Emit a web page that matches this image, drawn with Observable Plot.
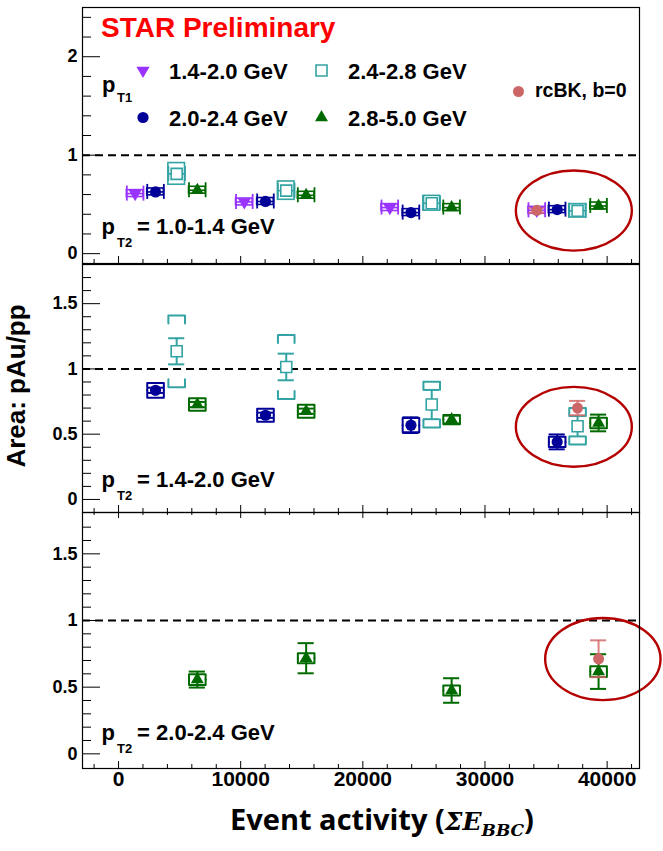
<!DOCTYPE html>
<html><head><meta charset="utf-8">
<script src="https://cdn.jsdelivr.net/npm/d3@7"></script>
<script src="https://cdn.jsdelivr.net/npm/@observablehq/plot@0.6"></script>
<style>
body{margin:0;background:#fff;}
#chart{position:relative;width:663px;height:851px;font-family:"Liberation Sans",Arial,sans-serif;}
</style></head><body><div id="chart"></div>
<script>
// ---------- data ----------
const series = ["1.4-2.0 GeV", "2.0-2.4 GeV", "2.4-2.8 GeV", "2.8-5.0 GeV"];
const seriesColors = ["#9933ff", "#000099", "#33a3a3", "#006a00"];
const panelLabels = ["1.0-1.4 GeV", "1.4-2.0 GeV", "2.0-2.4 GeV"];
const xTicks = [0, 10000, 20000, 30000, 40000];
const xMinorTicks = [-2000, 2000, 4000, 6000, 8000, 12000, 14000, 16000, 18000, 22000, 24000, 26000, 28000, 32000, 34000, 36000, 38000, 42000];
const yTicksTop = [0, 1, 2];
const yMinorTop = [0.2, 0.4, 0.6, 0.8, 1.2, 1.4, 1.6, 1.8, 2.2, 2.4];
const yTicksLow = [0, 0.5, 1, 1.5];
const yMinorLow = [0.1, 0.2, 0.3, 0.4, 0.6, 0.7, 0.8, 0.9, 1.1, 1.2, 1.3, 1.4, 1.6, 1.7];

// event activity (x) of each pT1 bin
const xViolet = [1360, 10300, 22210, 34240];
const xNavy = [3030, 12030, 23940, 35910];
const xTeal = [4760, 13730, 25640, 37580];
const xGreen = [6450, 15360, 27270, 39300];

// panel 1: pT2 = 1.0-1.4 GeV
const p1Violet = [0.61, 0.525, 0.468, 0.44];
const p1Navy = [0.627, 0.53, 0.417, 0.447];
const p1Teal = [0.81, 0.64, 0.512, 0.435];
const p1Green = [0.644, 0.593, 0.468, 0.484];
const p1SysViolet = [0.035, 0.035, 0.035, 0.035];
const p1SysNavy = [0.035, 0.035, 0.035, 0.035];
const p1SysTeal = [0.11, 0.093, 0.075, 0.068];
const p1SysGreen = [0.035, 0.035, 0.035, 0.035];
const p1RcbkX = [34240], p1RcbkY = [0.44], p1RcbkErr = [0.025];

// panel 2: pT2 = 1.4-2.0 GeV
const p2Navy = [0.836, 0.645, 0.569, 0.441];
const p2NavyStat = [0.02, 0.02, 0.06, 0.057];
const p2NavySys = [0.057, 0.05, 0.055, 0.04];
const p2Teal = [1.135, 1.015, 0.727, 0.561];
const p2TealStat = [0.1, 0.102, 0.112, 0.078];
const p2TealSys = [0.275, 0.245, 0.175, 0.14];
const p2Green = [0.727, 0.676, 0.612, 0.586];
const p2GreenStat = [0.02, 0.02, 0.03, 0.064];
const p2GreenSys = [0.048, 0.05, 0.035, 0.04];
const p2RcbkX = [37580], p2RcbkY = [0.70], p2RcbkErr = [0.055];

// panel 3: pT2 = 2.0-2.4 GeV
const p3Green = [0.557, 0.717, 0.475, 0.617];
const p3GreenStat = [0.06, 0.113, 0.092, 0.13];
const p3GreenSys = [0.04, 0.038, 0.038, 0.04];
const p3RcbkX = [39300], p3RcbkY = [0.713], p3RcbkErr = [0.138];

// highlighted (ellipse) regions, data units
const ellipseCx = [37316, 37316, 39690];
const ellipseCy = [0.433, 0.553, 0.707];
const ellipseRx = [4746, 4746, 4722];
const ellipseRy = [0.407, 0.306, 0.308];

// ---------- build tables ----------
function rowsOf(s, xs, ys, stat, sys) {
  return xs.map((x, i) => ({s, c: seriesColors[s], x, y: ys[i], stat: stat ? stat[i] : 0, sys: sys ? sys[i] : 0}));
}
const panelRows = [
  [
    ...rowsOf(0, xViolet, p1Violet, null, p1SysViolet),
    ...rowsOf(1, xNavy, p1Navy, null, p1SysNavy),
    ...rowsOf(2, xTeal, p1Teal, null, p1SysTeal),
    ...rowsOf(3, xGreen, p1Green, null, p1SysGreen)
  ],
  [
    ...rowsOf(1, xNavy, p2Navy, p2NavyStat, p2NavySys),
    ...rowsOf(2, xTeal, p2Teal, p2TealStat, p2TealSys),
    ...rowsOf(3, xGreen, p2Green, p2GreenStat, p2GreenSys)
  ],
  [
    ...rowsOf(3, xGreen, p3Green, p3GreenStat, p3GreenSys)
  ]
];
const rcbkRows = [
  p1RcbkX.map((x, i) => ({x, y: p1RcbkY[i], err: p1RcbkErr[i]})),
  p2RcbkX.map((x, i) => ({x, y: p2RcbkY[i], err: p2RcbkErr[i]})),
  p3RcbkX.map((x, i) => ({x, y: p3RcbkY[i], err: p3RcbkErr[i]}))
];
const ellipses = ellipseCx.map((cx, i) => ({cx, cy: ellipseCy[i], rx: ellipseRx[i], ry: ellipseRy[i]}));

// ---------- symbols ----------
const sqrt3 = Math.sqrt(3);
const triangleDown = {
  draw(context, size) {
    const y = -Math.sqrt(size / (sqrt3 * 3));
    context.moveTo(0, -y * 2);
    context.lineTo(-sqrt3 * y, y);
    context.lineTo(sqrt3 * y, y);
    context.closePath();
  }
};
const seriesSymbol = [triangleDown, "circle", "square", "triangle"];
const seriesR = [4.9, 5.6, 6.2, 4.8];

function seriesDots(data, s, opt = {}) {
  const hollow = s === 2;
  return Plot.dot(data, {
    ...opt,
    symbol: seriesSymbol[s], r: seriesR[s],
    fill: hollow ? "white" : seriesColors[s],
    stroke: hollow ? seriesColors[s] : "none",
    strokeWidth: hollow ? 1.6 : 0
  });
}

// ---------- panels ----------
const W = 680; // half width of sys boxes (data units)
const C = 660; // half width of error caps
const chart = document.getElementById("chart");
const width = 663, marginLeft = 82, marginRight = 24;
const innerW = width - marginLeft - marginRight;
const xDomain = [-2950, 42650];

const cfgs = [
  {top: 0, height: 263, marginTop: 7, marginBottom: 0, yDomain: [-0.1, 2.5], yTicks: yTicksTop, yMinor: yMinorTop, mode: "h"},
  {top: 263, height: 249, marginTop: 1, marginBottom: 0, yDomain: [-0.1, 1.8], yTicks: yTicksLow, yMinor: yMinorLow, mode: "v"},
  {top: 512, height: 339, marginTop: 0, marginBottom: 83, yDomain: [-0.11, 1.81], yTicks: yTicksLow, yMinor: yMinorLow, mode: "v", bottomAxis: true}
];

function ellipseMark(e) {
  return (index, scales) => {
    const g = d3.create("svg:g");
    const cx = scales.x(e.cx), cy = scales.y(e.cy);
    g.append("ellipse")
      .attr("cx", cx).attr("cy", cy)
      .attr("rx", Math.abs(scales.x(e.cx + e.rx) - cx))
      .attr("ry", Math.abs(scales.y(e.cy + e.ry) - cy))
      .attr("fill", "none").attr("stroke", "#b40000").attr("stroke-width", 2.4);
    return g.node();
  };
}

cfgs.forEach((cfg, p) => {
  const rows = panelRows[p];
  const innerH = cfg.height - cfg.marginTop - cfg.marginBottom;
  const k = innerH / (cfg.yDomain[1] - cfg.yDomain[0]); // px per unit
  const marks = [];
  marks.push(Plot.ruleY([1], {stroke: "#000", strokeWidth: 2, strokeDasharray: "8,5"}));
  marks.push(ellipseMark(ellipses[p]));
  const rc = rcbkRows[p];

  if (cfg.mode === "h") {
    const cap = 7.5 / k;
    marks.push(Plot.rect(rows, {x1: d => d.x - W, x2: d => d.x + W, y1: d => d.y - d.sys, y2: d => d.y + d.sys, stroke: "c", fill: "none", strokeWidth: 1.6}));
    marks.push(Plot.ruleY(rows, {y: "y", x1: d => d.x - W, x2: d => d.x + W, stroke: "c", strokeWidth: 1.6}));
    marks.push(Plot.ruleX(rows, {x: d => d.x - W, y1: d => d.y - cap, y2: d => d.y + cap, stroke: "c", strokeWidth: 1.8}));
    marks.push(Plot.ruleX(rows, {x: d => d.x + W, y1: d => d.y - cap, y2: d => d.y + cap, stroke: "c", strokeWidth: 1.8}));
  } else {
    const leg = 8 / k;
    const pts = [];
    rows.forEach((d, i) => {
      const L = Math.min(leg, d.sys);
      const t = d.y + d.sys, b = d.y - d.sys;
      pts.push({id: i + "t", c: d.c, x: d.x - W, y: t - L}, {id: i + "t", c: d.c, x: d.x - W, y: t}, {id: i + "t", c: d.c, x: d.x + W, y: t}, {id: i + "t", c: d.c, x: d.x + W, y: t - L});
      pts.push({id: i + "b", c: d.c, x: d.x - W, y: b + L}, {id: i + "b", c: d.c, x: d.x - W, y: b}, {id: i + "b", c: d.c, x: d.x + W, y: b}, {id: i + "b", c: d.c, x: d.x + W, y: b + L});
    });
    marks.push(Plot.ruleX(rows, {x: "x", y1: d => d.y - d.stat, y2: d => d.y + d.stat, stroke: "c", strokeWidth: 2}));
    marks.push(Plot.ruleY(rows, {y: d => d.y + d.stat, x1: d => d.x - C, x2: d => d.x + C, stroke: "c", strokeWidth: 2}));
    marks.push(Plot.ruleY(rows, {y: d => d.y - d.stat, x1: d => d.x - C, x2: d => d.x + C, stroke: "c", strokeWidth: 2}));
    marks.push(Plot.line(pts, {x: "x", y: "y", z: "id", stroke: "c", strokeWidth: 2}));
  }
  // rcBK
  marks.push(Plot.ruleX(rc, {x: "x", y1: d => d.y - d.err, y2: d => d.y + d.err, stroke: "#d46a6a", strokeOpacity: 0.85, strokeWidth: 2}));
  marks.push(Plot.ruleY(rc, {y: d => d.y + d.err, x1: d => d.x - C, x2: d => d.x + C, stroke: "#d46a6a", strokeOpacity: 0.85, strokeWidth: 2}));
  marks.push(Plot.ruleY(rc, {y: d => d.y - d.err, x1: d => d.x - C, x2: d => d.x + C, stroke: "#d46a6a", strokeOpacity: 0.85, strokeWidth: 2}));

  for (let s = 0; s < 4; s++) {
    const ds = rows.filter(d => d.s === s);
    if (ds.length) marks.push(seriesDots(ds, s, {x: "x", y: "y"}));
  }
  marks.push(Plot.dot(rc, {x: "x", y: "y", r: 5.5, fill: "#cd6666"}));

  // ticks
  marks.push(Plot.tickY(cfg.yTicks, {y: d => d, insetRight: innerW - 18, stroke: "#000", strokeWidth: 1}));
  marks.push(Plot.tickY(cfg.yMinor, {y: d => d, insetRight: innerW - 9, stroke: "#000", strokeWidth: 1}));
  marks.push(Plot.tickX(xTicks, {x: d => d, insetTop: innerH - 7, stroke: "#000", strokeWidth: 1}));
  marks.push(Plot.tickX(xMinorTicks, {x: d => d, insetTop: innerH - 4, stroke: "#000", strokeWidth: 1}));
  if (p === 2) {
    marks.push(Plot.tickX(xTicks, {x: d => d, insetBottom: innerH - 6, stroke: "#000", strokeWidth: 1}));
    marks.push(Plot.tickX(xMinorTicks, {x: d => d, insetBottom: innerH - 3, stroke: "#000", strokeWidth: 1}));
  }
  marks.push(Plot.axisY(cfg.yTicks, {tickSize: 0, tickPadding: 5, fontSize: 18, fontWeight: "bold", tickFormat: d => String(d), label: null}));
  if (cfg.bottomAxis) {
    marks.push(Plot.axisX(xTicks, {anchor: "bottom", tickSize: 0, tickPadding: 3, fontSize: 21, fontWeight: "bold", tickFormat: d => String(d), label: null}));
  }
  marks.push(Plot.frame({stroke: "#000", strokeWidth: 1.2}));

  if (p === 0) {
    // legend symbols
    const lg = [[60.5, 63], [60.5, 110], [239, 63], [239, 110]];
    lg.forEach(([dx, dy], s) => marks.push(seriesDots([0], s, {frameAnchor: "top-left", dx, dy})));
    marks.push(Plot.dot([0], {frameAnchor: "top-left", dx: 436, dy: 84, r: 5.5, fill: "#cd6666"}));
  }

  const svg = Plot.plot({
    width, height: cfg.height,
    marginLeft, marginRight, marginTop: cfg.marginTop, marginBottom: cfg.marginBottom,
    x: {domain: xDomain, axis: null},
    y: {domain: cfg.yDomain, axis: null},
    color: {type: "identity"},
    style: {fontFamily: '"Liberation Sans", Arial, sans-serif', overflow: "visible", background: "transparent", color: "#000"},
    marks
  });
  svg.style.position = "absolute";
  svg.style.left = "0px";
  svg.style.top = cfg.top + "px";
  chart.appendChild(svg);
});

// ---------- text overlay ----------
const ov = d3.select("#chart").append("svg")
  .attr("width", 663).attr("height", 851)
  .style("position", "absolute").style("left", "0px").style("top", "0px")
  .style("pointer-events", "none")
  .attr("font-family", '"Liberation Sans", Arial, sans-serif').attr("font-weight", "bold");
function txt(x, y, s, size, fill = "#000") {
  return ov.append("text").attr("x", x).attr("y", y).attr("font-size", size).attr("fill", fill).text(s);
}
txt(101, 36.5, "STAR Preliminary", 28, "#ff0000");
txt(102, 92, "p", 22); txt(117, 101.5, "T1", 13);
txt(169, 78.5, series[0], 22);
txt(348, 78.5, series[2], 22);
txt(169, 126, series[1], 22);
txt(348, 126, series[3], 22);
txt(535, 97, "rcBK, b=0", 19.5);
const labelBase = [234, 487, 740];
labelBase.forEach((b, i) => {
  txt(101.5, b, "p", 22); txt(117, b + 12.5, "T2", 13);
  txt(131, b, " = " + panelLabels[i], 22).attr("xml:space", "preserve");
});
ov.append("text").attr("transform", "translate(25,386) rotate(-90)").attr("text-anchor", "middle")
  .attr("font-size", 26).text("Area: pAu/pp");
const xt = ov.append("text").attr("x", 382).attr("y", 830).attr("text-anchor", "middle")
  .attr("font-family", '"Open Sans", sans-serif').attr("font-size", 29);
xt.append("tspan").text("Event activity (");
xt.append("tspan").attr("font-family", '"DejaVu Serif", serif').attr("font-style", "italic").attr("font-weight", "bold").attr("font-size", 25).text("ΣE");
xt.append("tspan").attr("font-family", '"DejaVu Serif", serif').attr("font-style", "italic").attr("font-weight", "bold").attr("font-size", 17).attr("dy", 6).text("BBC");
xt.append("tspan").attr("dy", -6).text(")");
</script></body></html>
